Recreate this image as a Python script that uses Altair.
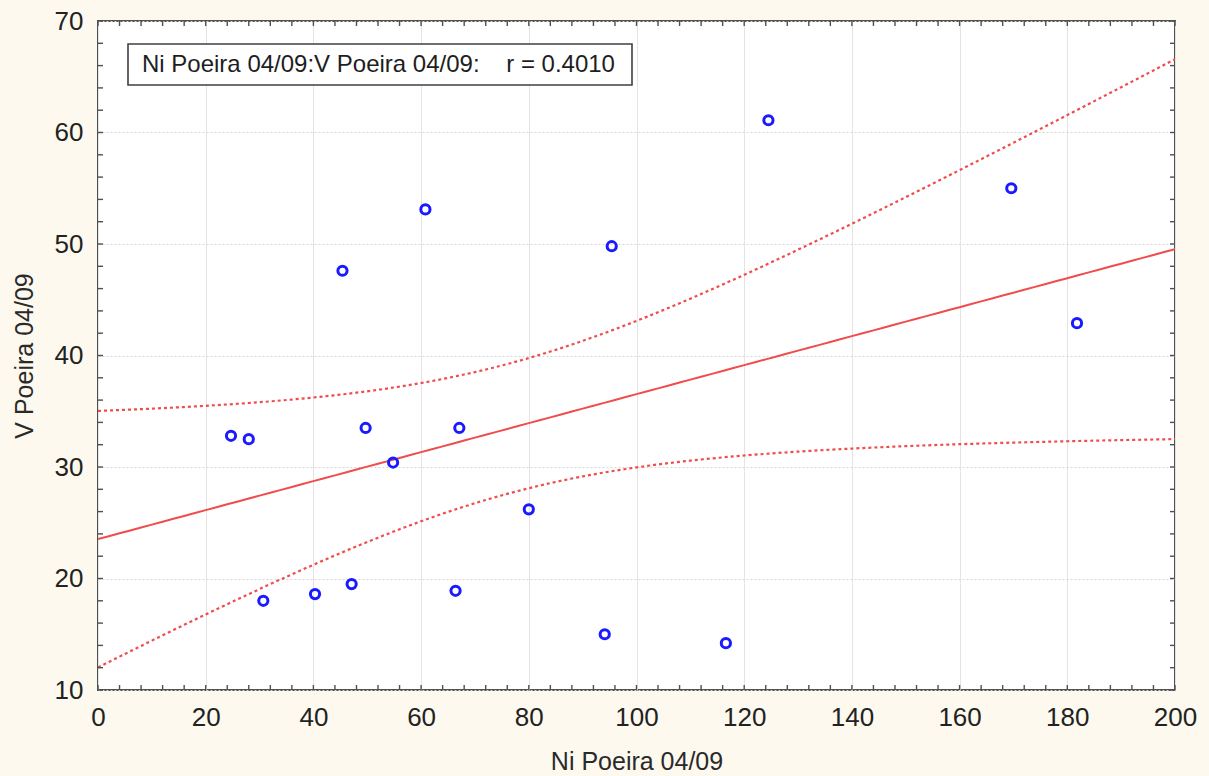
import altair as alt
import numpy as np
import pandas as pd

# Ni and V dust concentrations (Poeira 04/09)
ni_values = [24.7, 28.0, 30.7, 40.3, 45.4, 47.1, 49.7, 54.8, 60.8,
             66.4, 67.1, 80.0, 94.1, 95.4, 116.6, 124.5, 169.6, 181.8]
v_values = [32.8, 32.5, 18.0, 18.6, 47.6, 19.5, 33.5, 30.4, 53.1,
            18.9, 33.5, 26.2, 15.0, 49.8, 14.2, 61.1, 55.0, 42.9]

x_label = "Ni Poeira 04/09"
y_label = "V Poeira 04/09"
r_text = "0.4010"
gap = "\u00a0" * 4
header = f"{x_label}:{y_label}:{gap}r = {r_text}"

x_major = list(range(0, 201, 20))
x_minor = list(range(0, 201, 4))
y_major = list(range(10, 71, 10))
y_minor = list(range(10, 71, 2))

T_CRIT = 1.746  # Student t, df = n - 2 = 16

W, H = 1077, 669
RED = "#f04c4c"
BLUE = "#1a1aff"
FRAME = "#505050"
FONT = "Liberation Sans"

pts = pd.DataFrame({"ni": ni_values, "v": v_values})

# least-squares fit with confidence band of the mean
x = np.array(ni_values)
y = np.array(v_values)
n = len(x)
xm, ym = x.mean(), y.mean()
sxx = ((x - xm) ** 2).sum()
slope = ((x - xm) * (y - ym)).sum() / sxx
icpt = ym - slope * xm
s = np.sqrt(((y - (icpt + slope * x)) ** 2).sum() / (n - 2))
grid = np.linspace(0, 200, 101)
fit = icpt + slope * grid
half = T_CRIT * s * np.sqrt(1 / n + (grid - xm) ** 2 / sxx)
band = pd.DataFrame({"ni": grid, "fit": fit, "lo": fit - half, "hi": fit + half})

xs = alt.Scale(domain=[0, 200], nice=False, zero=False)
ys = alt.Scale(domain=[10, 70], nice=False, zero=False)

x_axis = alt.Axis(values=x_major, title=x_label, ticks=False, tickSize=0, domain=False,
                  grid=True, gridColor="#e4e4e4", gridWidth=1,
                  labelFlush=False, labelOverlap=False,
                  labelFontSize=26, labelColor="#222222", labelPadding=14,
                  labelFont=FONT, titleFont=FONT,
                  titleFontSize=25, titleFontWeight="normal", titleColor="#2a2a2a",
                  titleX=W / 2, titleY=71, titleBaseline="middle")
y_axis = alt.Axis(values=y_major, title=y_label, ticks=False, tickSize=0, domain=False,
                  grid=True, gridColor="#d6d6d6", gridDash=[2, 2], gridWidth=1,
                  labelFlush=False, labelOverlap=False,
                  labelFontSize=26, labelColor="#222222", labelPadding=15,
                  labelFont=FONT, titleFont=FONT,
                  titleFontSize=25, titleFontWeight="normal", titleColor="#2a2a2a",
                  titleX=-74, titleY=H / 2, titleBaseline="middle", titleAngle=270)

points = alt.Chart(pts).mark_point(shape="circle", filled=False, size=85,
                                   strokeWidth=3, color=BLUE, opacity=1).encode(
    x=alt.X("ni:Q", scale=xs, axis=x_axis),
    y=alt.Y("v:Q", scale=ys, axis=y_axis),
)

fit_line = alt.Chart(band).mark_line(color=RED, strokeWidth=2, clip=True).encode(
    x=alt.X("ni:Q", scale=xs), y=alt.Y("fit:Q", scale=ys))
hi_line = alt.Chart(band).mark_line(color=RED, strokeWidth=2.2, strokeDash=[3, 3],
                                    clip=True).encode(
    x=alt.X("ni:Q", scale=xs), y=alt.Y("hi:Q", scale=ys))
lo_line = alt.Chart(band).mark_line(color=RED, strokeWidth=2.2, strokeDash=[3, 3],
                                    clip=True).encode(
    x=alt.X("ni:Q", scale=xs), y=alt.Y("lo:Q", scale=ys))

# inward tick marks on all four sides of the frame
xt = pd.DataFrame({"t": x_minor})
yt = pd.DataFrame({"t": y_minor})

tick_style = dict(color=FRAME, strokeWidth=1.4)
x_ticks_bottom = alt.Chart(xt).mark_rule(**tick_style).encode(
    x=alt.X("t:Q", scale=xs), y=alt.value(H), y2=alt.value(H - 5))
x_ticks_top = alt.Chart(xt).mark_rule(**tick_style).encode(
    x=alt.X("t:Q", scale=xs), y=alt.value(0), y2=alt.value(5))
y_ticks_left = alt.Chart(yt).mark_rule(**tick_style).encode(
    y=alt.Y("t:Q", scale=ys), x=alt.value(0), x2=alt.value(5))
y_ticks_right = alt.Chart(yt).mark_rule(**tick_style).encode(
    y=alt.Y("t:Q", scale=ys), x=alt.value(W), x2=alt.value(W - 5))

# header box with the correlation coefficient
hdr = pd.DataFrame({"label": [header]})
hdr_box = alt.Chart(hdr).mark_rect(fill="white", stroke="#404040", strokeWidth=1.6).encode(
    x=alt.value(30), x2=alt.value(534), y=alt.value(23), y2=alt.value(64))
hdr_text = alt.Chart(hdr).mark_text(align="left", baseline="middle", fontSize=24,
                                    font=FONT, color="#1e1e1e").encode(
    x=alt.value(44), y=alt.value(44), text="label:N")

chart = alt.layer(
    fit_line, hi_line, lo_line, points,
    x_ticks_bottom, x_ticks_top, y_ticks_left, y_ticks_right,
    hdr_box, hdr_text,
).properties(
    width=W, height=H,
    autosize=alt.AutoSizeParams(type="none"),
    padding={"left": 98, "top": 21, "right": 34, "bottom": 86},
    background="#fdf9ee",
).configure_view(
    stroke=FRAME, strokeWidth=2, fill="white",
)

chart.save("out.html", embed_options={"renderer": "svg", "actions": False})
